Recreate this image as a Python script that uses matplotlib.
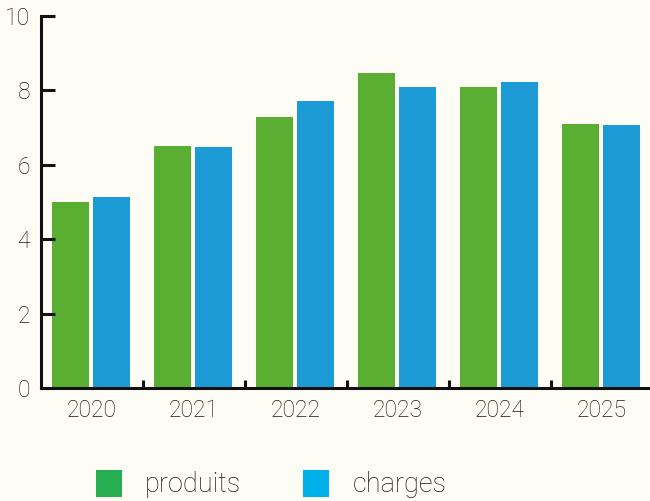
import numpy as np
import matplotlib.pyplot as plt
from matplotlib.patches import Patch

years = ['2020', '2021', '2022', '2023', '2024', '2025']
produits = [5.0, 6.5, 7.28, 8.47, 8.09, 7.10]
charges = [5.13, 6.48, 7.72, 8.09, 8.23, 7.07]
series_names = ['produits', 'charges']

bg = '#fdfdf5'
bar_colors = ['#5aaf33', '#1d9bd6']
legend_colors = ['#27ad52', '#00b1e9']

plt.rcParams['font.family'] = ['Roboto', 'DejaVu Sans']
plt.rcParams['font.weight'] = 'light'

fig = plt.figure(figsize=(6.5, 5.01), dpi=100, facecolor=bg)
ax = fig.add_axes([41 / 650, (501 - 388) / 501, 612 / 650, (388 - 16) / 501])
ax.set_facecolor(bg)

x = np.arange(len(years))
ax.bar(x - 0.21, produits, width=0.36, color=bar_colors[0])
ax.bar(x + 0.19, charges, width=0.36, color=bar_colors[1])

ax.set_xlim(-0.5, len(years) - 0.5)
ax.set_ylim(0, 10)

for s in ['top', 'right']:
    ax.spines[s].set_visible(False)
for s in ['left', 'bottom']:
    ax.spines[s].set_linewidth(2.2)
    ax.spines[s].set_color('#111111')

ax.set_yticks([0, 2, 4, 6, 8, 10])
ax.tick_params(axis='y', direction='in', length=10, width=2.2, pad=8,
               labelsize=16.5, labelcolor='#1a1a1a', color='#111111')

ax.set_xticks(x)
ax.set_xticklabels(years)
ax.set_xticks(np.arange(1, len(years)) - 0.5, minor=True)
ax.tick_params(axis='x', which='major', length=0, pad=8,
               labelsize=16.5, labelcolor='#1a1a1a')
ax.tick_params(axis='x', which='minor', direction='in', length=6, width=2.2,
               color='#111111')

handles = [Patch(facecolor=c, edgecolor='none') for c in legend_colors]
fig.legend(handles, series_names, loc='center', bbox_to_anchor=(271 / 650, 1 - 484 / 501),
           ncol=2, frameon=False, fontsize=19.5, handlelength=0.96, handleheight=1.15,
           handletextpad=0.85, columnspacing=2.31, labelcolor='#1a1a1a')

fig.savefig('out.png', dpi=100, facecolor=bg)
